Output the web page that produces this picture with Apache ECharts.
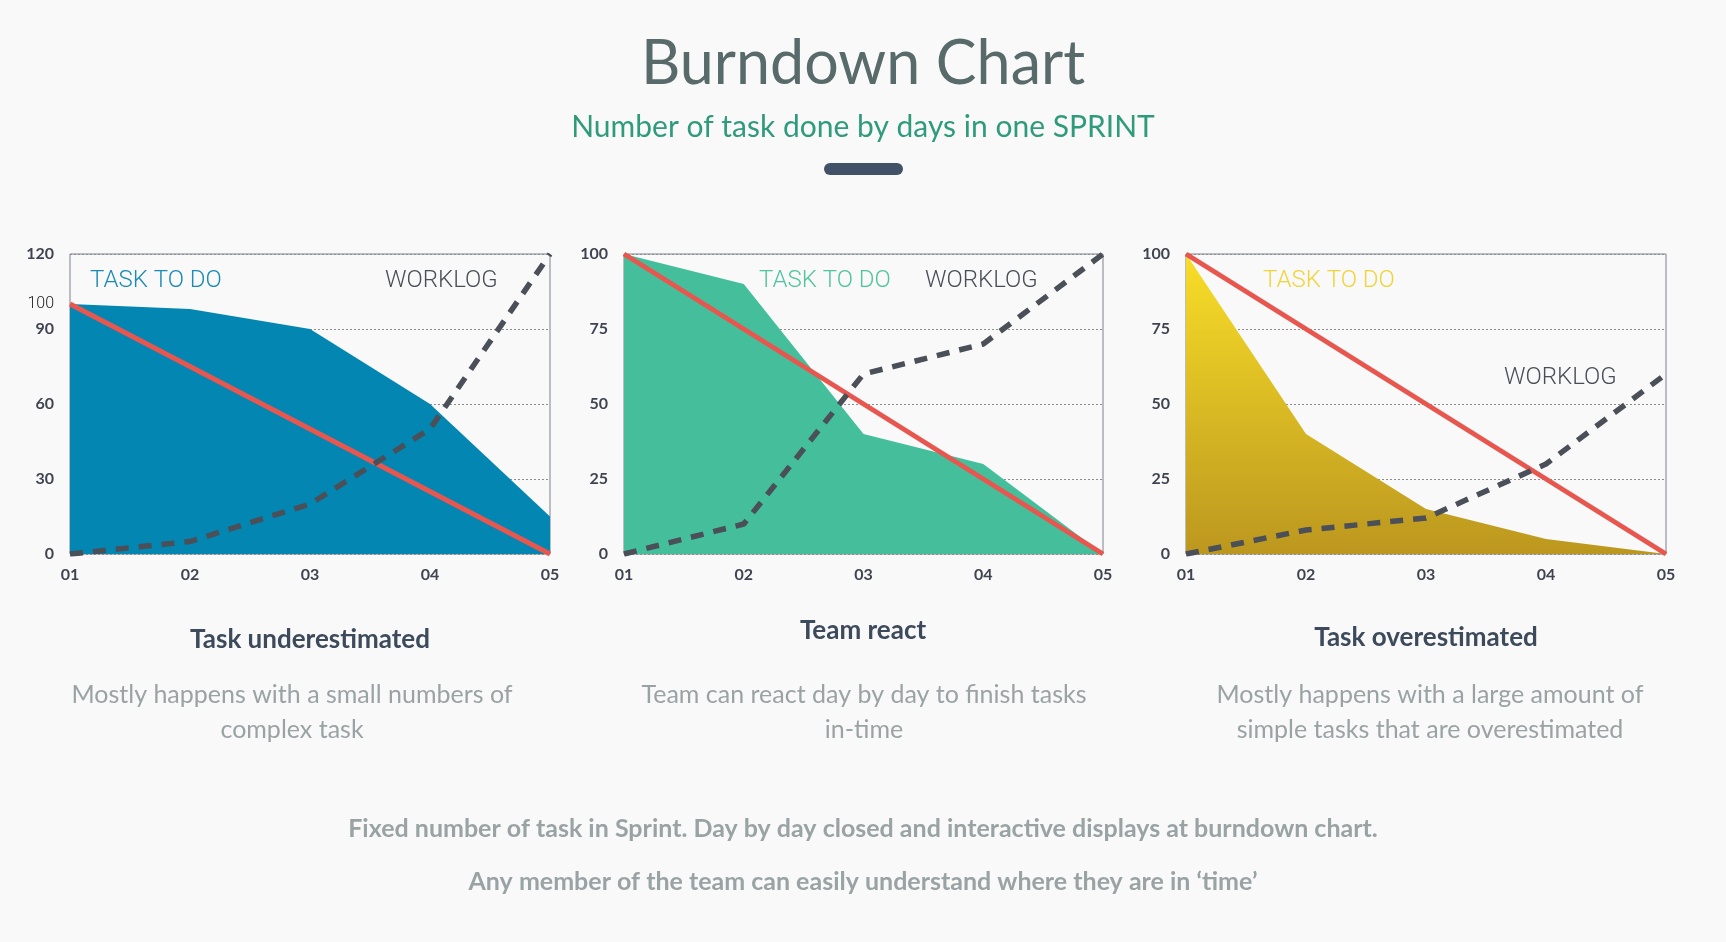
<!DOCTYPE html>
<html>
<head>
<meta charset="utf-8">
<script src="https://cdn.jsdelivr.net/npm/echarts@6/dist/echarts.min.js"></script>
<style>
  html, body { margin: 0; padding: 0; background: #f9f9f9; }
  #chart { width: 1726px; height: 942px; }
</style>
</head>
<body>
<div id="chart"></div>
<script>
// ---- data ----
const days = ['01', '02', '03', '04', '05'];

const taskUnder = [100, 98, 90, 60, 15];
const idealUnder = [100, 75, 50, 25, 0];
const workUnder = [0, 5, 20, 50, 120];

const taskReact = [100, 90, 40, 30, 0];
const idealReact = [100, 75, 50, 25, 0];
const workReact = [0, 10, 60, 70, 100];

const taskOver = [100, 40, 15, 5, 0];
const idealOver = [100, 75, 50, 25, 0];
const workOver = [0, 8, 12, 30, 60];

const yTicksUnder = [0, 30, 60, 90, 100, 120];
const yTicksOther = [0, 25, 50, 75, 100];

const mainTitle = 'Burndown Chart';
const subTitle = 'Number of task done by days in one SPRINT';
const headings = ['Task underestimated', 'Team react', 'Task overestimated'];
const descriptions = [
  ['Mostly happens with a small numbers of', 'complex task'],
  ['Team can react day by day to finish tasks', 'in-time'],
  ['Mostly happens with a large amount of', 'simple tasks that are overestimated']
];
const footer = [
  'Fixed number of task in Sprint. Day by day closed and interactive displays at burndown chart.',
  'Any member of the team can easily understand where they are in \u2018time\u2019'
];

// ---- styles ----
const RED = '#e8574f';
const DASH = '#4a4f58';
const LABEL = '#3f4450';
const GRAY_TXT = '#9aa3a4';

const grids = [
  { left: 70, top: 254, width: 480, height: 300 },
  { left: 624, top: 254, width: 479, height: 300 },
  { left: 1186, top: 254, width: 480, height: 300 }
];

function xAxis(i) {
  return {
    type: 'category', gridIndex: i, data: days, boundaryGap: false,
    axisLine: { show: false }, axisTick: { show: false },
    axisLabel: { margin: 13, color: LABEL, fontFamily: 'Lato', fontWeight: 'bold', fontSize: 16 }
  };
}
function yAxis(i, max, interval, ticks) {
  return {
    type: 'value', gridIndex: i, min: 0, max: max, interval: interval,
    axisLine: { show: false }, axisTick: { show: false },
    splitLine: { show: true, lineStyle: { color: '#8d8d8d', width: 1, type: [2, 2] } },
    axisLabel: {
      margin: 16, color: LABEL, fontFamily: 'Lato', fontWeight: 'bold', fontSize: 16,
      customValues: ticks,
      formatter: function (v) { return (max === 120 && v === 100) ? '{thin|100}' : String(v); },
      rich: { thin: { fontFamily: 'Roboto', fontWeight: 300, fontSize: 16, color: '#222' } }
    }
  };
}
function seriesFor(i, task, ideal, work, areaColor) {
  return [
    { type: 'line', xAxisIndex: i, yAxisIndex: i, data: task, symbol: 'none', z: 2,
      lineStyle: { width: 0 }, areaStyle: { color: areaColor, opacity: 1 } },
    { type: 'line', xAxisIndex: i, yAxisIndex: i, data: ideal, symbol: 'none', z: 3,
      lineStyle: { color: RED, width: 5 } },
    { type: 'line', xAxisIndex: i, yAxisIndex: i, data: work, symbol: 'none', z: 4,
      lineStyle: { color: DASH, width: 5.5, type: [13, 10] } }
  ];
}

const gold = new echarts.graphic.LinearGradient(0, 0, 0, 1, [
  { offset: 0, color: '#f8de28' },
  { offset: 1, color: '#bc971f' }
]);

function txt(x, y, text, font, fill, align) {
  return { type: 'text', x: x, y: y, silent: true,
    style: { text: text, font: font, fill: fill, textAlign: align || 'center', textVerticalAlign: 'middle' } };
}

const graphics = [
  txt(863, 64, mainTitle, '400 61px Lato', '#586a6a'),
  txt(863, 127, subTitle, '400 30px Lato', '#2f9b7a'),
  { type: 'rect', shape: { x: 824, y: 163, width: 79, height: 12, r: 6 }, style: { fill: '#415168' } },
  txt(90, 281, 'TASK TO DO', '300 24px Roboto', '#1b8ab5', 'left'),
  txt(385, 281, 'WORKLOG', '300 24px Roboto', '#4a4f57', 'left'),
  txt(759, 281, 'TASK TO DO', '300 24px Roboto', '#52c4a0', 'left'),
  txt(925, 281, 'WORKLOG', '300 24px Roboto', '#4a4f57', 'left'),
  txt(1263, 281, 'TASK TO DO', '300 24px Roboto', '#f0d43a', 'left'),
  txt(1504, 378, 'WORKLOG', '300 24px Roboto', '#4a4f57', 'left'),
  txt(310, 640, headings[0], '700 26px Lato', '#3d4a5c'),
  txt(863, 631, headings[1], '700 26px Lato', '#3d4a5c'),
  txt(1426, 638, headings[2], '700 26px Lato', '#3d4a5c'),
  txt(292, 695, descriptions[0][0], '400 25px Lato', GRAY_TXT),
  txt(292, 730, descriptions[0][1], '400 25px Lato', GRAY_TXT),
  txt(864, 695, descriptions[1][0], '400 25px Lato', GRAY_TXT),
  txt(864, 730, descriptions[1][1], '400 25px Lato', GRAY_TXT),
  txt(1430, 695, descriptions[2][0], '400 25px Lato', GRAY_TXT),
  txt(1430, 730, descriptions[2][1], '400 25px Lato', GRAY_TXT),
  txt(863, 829, footer[0], '700 25px Lato', GRAY_TXT),
  txt(863, 882, footer[1], '700 25px Lato', GRAY_TXT)
];

const chart = echarts.init(document.getElementById('chart'), null, { renderer: 'canvas' });
chart.setOption({
  backgroundColor: '#f9f9f9',
  animation: false,
  grid: grids.map(g => Object.assign({ show: true, borderColor: '#7c8189', borderWidth: 1, backgroundColor: 'transparent' }, g)),
  xAxis: [xAxis(0), xAxis(1), xAxis(2)],
  yAxis: [yAxis(0, 120, 30, yTicksUnder), yAxis(1, 100, 25, yTicksOther), yAxis(2, 100, 25, yTicksOther)],
  series: [].concat(
    seriesFor(0, taskUnder, idealUnder, workUnder, '#0386b2'),
    seriesFor(1, taskReact, idealReact, workReact, '#45bf9b'),
    seriesFor(2, taskOver, idealOver, workOver, gold)
  ),
  graphic: graphics
});
</script>
</body>
</html>
